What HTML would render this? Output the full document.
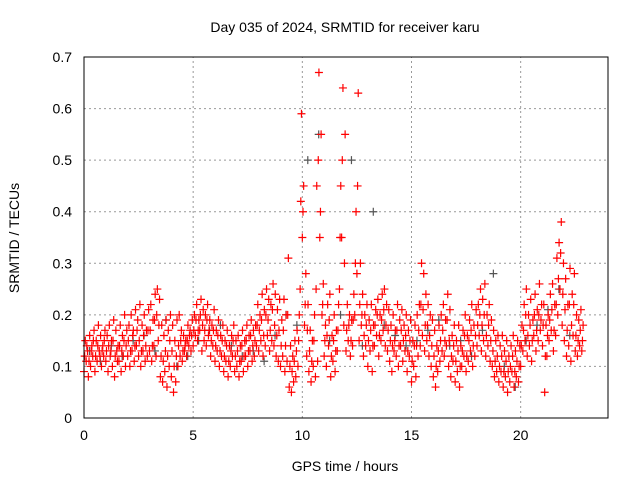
<!DOCTYPE html>
<html><head><meta charset="utf-8"><style>
body{margin:0;background:#fff;}
svg{display:block;font-family:"Liberation Sans",sans-serif;}
</style></head><body>
<svg id="chart" width="640" height="480" viewBox="0 0 640 480" xmlns="http://www.w3.org/2000/svg">
<text x="345" y="32" font-size="14" text-anchor="middle">Day 035 of 2024, SRMTID for receiver karu</text>
<text transform="translate(19,238) rotate(-90)" font-size="14" text-anchor="middle">SRMTID / TECUs</text>
<text x="345" y="471" font-size="14" text-anchor="middle">GPS time / hours</text>
<g id="grid"></g>
<g id="ticks"></g>
<g id="gray"></g>
<g id="red"></g>
<rect x="84" y="57" width="524" height="361" fill="none" stroke="#000" stroke-width="1"/>
</svg>
<script>
const xTicks=[0,5,10,15,20];
const yTicks=[0,0.1,0.2,0.3,0.4,0.5,0.6,0.7];
const yTickLabels=["0","0.1","0.2","0.3","0.4","0.5","0.6","0.7"];
const redStart=0, redStep=0.1;
const redLow=[.09,.11,.08,.10,.12,.09,.11,.13,.10,.12,
.11,.09,.12,.10,.08,.13,.11,.09,.12,.10,
.12,.10,.13,.11,.14,.12,.10,.13,.11,.12,
.13,.11,.14,.12,.15,.08,.07,.09,.06,.10,
.08,.05,.07,.10,.12,.11,.13,.12,.14,.13,
.14,.16,.15,.17,.13,.15,.14,.16,.12,.14,
.11,.13,.10,.12,.09,.11,.08,.10,.12,.09,
.10,.08,.11,.09,.12,.10,.13,.11,.12,.14,
.13,.15,.12,.14,.16,.13,.15,.14,.12,.11,
.10,.12,.09,.11,.06,.05,.07,.08,.10,.25,
.35,.18,.12,.09,.07,.10,.08,.11,.35,.20,
.12,.10,.14,.08,.11,.09,.13,.25,.35,.18,
.13,.15,.12,.14,.20,.28,.15,.18,.12,.14,
.10,.13,.09,.14,.16,.12,.15,.17,.14,.13,
.11,.09,.13,.12,.10,.14,.11,.13,.09,.12,
.07,.10,.08,.12,.14,.16,.13,.15,.12,.10,
.08,.06,.09,.11,.13,.12,.14,.10,.08,.11,
.07,.09,.06,.10,.12,.09,.11,.13,.10,.12,
.14,.16,.13,.15,.12,.14,.11,.10,.08,.09,
.07,.09,.06,.08,.05,.07,.09,.06,.08,.07,
.10,.13,.15,.12,.14,.11,.16,.13,.15,.17,
.14,.05,.12,.15,.17,.13,.16,.20,.25,.18,
.15,.12,.14,.11,.16,.13,.12,.14,.13];
const redMid=[.12,.14,.11,.13,.15,.12,.14,.12,.13,.15,
.13,.14,.13,.15,.12,.11,.14,.13,.15,.14,
.15,.13,.16,.14,.17,.15,.13,.16,.14,.17,
.17,.14,.19,.20,.18,.12,.11,.13,.12,.15,
.13,.10,.12,.14,.15,.13,.14,.15,.16,.16,
.17,.19,.17,.20,.18,.17,.19,.17,.15,.17,
.14,.16,.13,.15,.12,.14,.11,.13,.15,.12,
.13,.11,.14,.12,.15,.13,.16,.14,.15,.18,
.17,.19,.16,.20,.19,.17,.21,.18,.16,.17,
.14,.17,.14,.20,.10,.09,.11,.13,.15,.42,
.40,.22,.17,.13,.11,.15,.25,.50,.40,.22,
.15,.16,.19,.12,.15,.13,.17,.35,.50,.30,
.17,.18,.15,.19,.30,.45,.22,.20,.16,.18,
.15,.17,.14,.18,.20,.16,.19,.21,.18,.17,
.15,.14,.15,.17,.14,.17,.15,.16,.13,.15,
.11,.14,.14,.17,.22,.21,.18,.18,.16,.14,
.12,.10,.13,.15,.17,.15,.19,.15,.12,.14,
.11,.13,.10,.13,.16,.12,.15,.17,.14,.16,
.18,.20,.18,.20,.16,.18,.15,.13,.11,.12,
.10,.12,.09,.11,.09,.10,.12,.09,.11,.10,
.14,.17,.20,.16,.18,.15,.20,.17,.20,.19,
.18,.12,.16,.19,.21,.17,.22,.27,.32,.24,
.21,.17,.22,.18,.22,.16,.15,.17,.15];
const redHigh=[.15,.13,.16,.14,.17,.15,.18,.16,.14,.17,
.16,.18,.15,.19,.17,.14,.18,.16,.20,.17,
.18,.20,.17,.21,.19,.22,.18,.20,.17,.21,
.22,.19,.24,.25,.23,.18,.16,.19,.17,.20,
.18,.15,.19,.20,.17,.16,.15,.18,.17,.19,
.20,.22,.19,.23,.21,.20,.22,.19,.18,.21,
.17,.19,.16,.18,.15,.17,.14,.16,.18,.15,
.16,.14,.17,.15,.18,.16,.19,.17,.18,.22,
.20,.24,.21,.25,.23,.22,.26,.24,.21,.23,
.19,.23,.20,.31,.14,.12,.15,.17,.20,.59,
.45,.28,.22,.17,.15,.20,.45,.67,.55,.26,
.18,.22,.24,.16,.20,.17,.22,.45,.64,.55,
.22,.20,.19,.24,.40,.63,.30,.24,.20,.22,
.19,.22,.18,.21,.23,.20,.24,.25,.22,.21,
.18,.20,.17,.22,.19,.21,.18,.20,.17,.19,
.15,.18,.20,.22,.30,.28,.24,.22,.20,.19,
.17,.14,.18,.20,.22,.19,.24,.21,.16,.18,
.15,.18,.14,.17,.20,.16,.19,.22,.18,.21,
.22,.25,.23,.26,.20,.22,.19,.17,.15,.16,
.14,.16,.13,.15,.12,.14,.16,.13,.15,.14,
.18,.22,.25,.20,.23,.19,.24,.21,.26,.22,
.22,.18,.20,.24,.26,.22,.31,.34,.38,.30,
.27,.22,.29,.24,.28,.20,.19,.21,.18];
const grayStart=0.25, grayStep=0.5;
const grayVals=[.13,.11,.14,.12,.15,.16,.13,.19,.10,.12,.15,.17,.18,.14,.12,.13,.11,.16,.20,.18,.50,.55,.15,.20,.50,.14,.40,.18,.16,.14,.15,.17,.19,.14,.15,.12,.17,.28,.10,.06,.15,.18,.21,.25,.16];

const X0=84,X1=608,Y0=418,Y1=57;
const xs=v=>X0+(v/24)*(X1-X0);
const ys=v=>Y0-(v/0.7)*(Y0-Y1);
const NS="http://www.w3.org/2000/svg";
function mk(tag,attrs,parent){const e=document.createElementNS(NS,tag);for(const k in attrs)e.setAttribute(k,attrs[k]);parent.appendChild(e);return e;}
const grid=document.getElementById('grid'),ticks=document.getElementById('ticks');
xTicks.forEach(t=>{
  if(t>0){const l=mk('line',{x1:xs(t),x2:xs(t),y1:Y0,y2:Y1,stroke:'#999','stroke-dasharray':'2,3'},grid);
  
  }
  const tx=mk('text',{x:xs(t),y:Y0+22,'font-size':14,'text-anchor':'middle'},ticks);tx.textContent=t;
  
  
});
yTicks.forEach((t,i)=>{
  if(t>0&&t<0.7){const l=mk('line',{x1:X0,x2:X1,y1:ys(t),y2:ys(t),stroke:'#999','stroke-dasharray':'2,3'},grid);
  
  }
  const tx=mk('text',{x:X0-12,y:ys(t)+5,'font-size':14,'text-anchor':'end'},ticks);tx.textContent=yTickLabels[i];
  
  
});
function plus(g,x,y,c){const p=mk('path',{d:`M${x-4},${y}h8M${x},${y-4}v8`,stroke:c,'stroke-width':1.2,fill:'none'},g);
  
  }
const gg=document.getElementById('gray'),rg=document.getElementById('red');
grayVals.forEach((v,i)=>plus(gg,xs(grayStart+i*grayStep),ys(v),'#555'));
redLow.forEach((v,i)=>plus(rg,xs(redStart+i*redStep),ys(v),'#f00'));
redMid.forEach((v,i)=>plus(rg,xs(redStart+i*redStep+0.03),ys(v),'#f00'));
redHigh.forEach((v,i)=>plus(rg,xs(redStart+i*redStep+0.06),ys(v),'#f00'));
</script>
</body></html>
